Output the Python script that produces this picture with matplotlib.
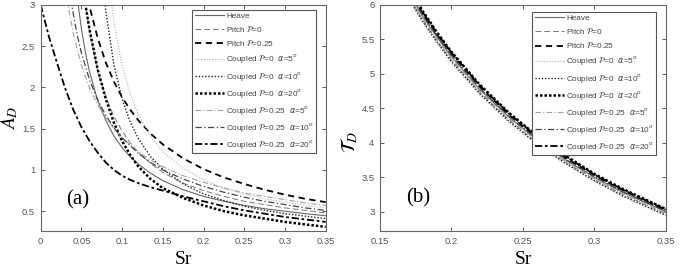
import matplotlib.pyplot as plt

# ---------------- (a) A_D vs Sr ----------------
sr_heave = [0.04, 0.045, 0.05, 0.055, 0.06, 0.07, 0.08, 0.09, 0.10, 0.11, 0.12,
            0.135, 0.15, 0.175, 0.20, 0.225, 0.25, 0.275, 0.30, 0.325, 0.35]
ad_heave = [3.59, 3.08, 2.71, 2.42, 2.19, 1.84, 1.60, 1.41, 1.27, 1.16, 1.07,
            0.96, 0.87, 0.76, 0.68, 0.62, 0.57, 0.53, 0.50, 0.47, 0.445]

sr_p0 = [0.05, 0.055, 0.06, 0.07, 0.08, 0.09, 0.10, 0.11, 0.12, 0.135, 0.15,
         0.175, 0.20, 0.225, 0.25, 0.275, 0.30, 0.325, 0.35]
ad_p0 = [3.43, 3.00, 2.68, 2.20, 1.88, 1.65, 1.47, 1.33, 1.21, 1.08, 0.97,
         0.84, 0.75, 0.68, 0.62, 0.58, 0.54, 0.51, 0.48]

sr_p25 = [0.055, 0.06, 0.07, 0.08, 0.09, 0.10, 0.11, 0.12, 0.135, 0.15, 0.175,
          0.20, 0.225, 0.25, 0.275, 0.30, 0.325, 0.35]
ad_p25 = [3.23, 2.98, 2.60, 2.30, 2.07, 1.88, 1.73, 1.60, 1.44, 1.31, 1.14,
          1.01, 0.91, 0.83, 0.76, 0.70, 0.65, 0.61]

sr_c0_a5 = [0.085, 0.09, 0.10, 0.11, 0.12, 0.135, 0.15, 0.175, 0.20, 0.225,
            0.25, 0.275, 0.30, 0.325, 0.35]
ad_c0_a5 = [3.17, 2.79, 2.26, 1.92, 1.67, 1.41, 1.22, 1.02, 0.88, 0.78,
            0.71, 0.65, 0.61, 0.57, 0.54]

sr_c0_a10 = [0.075, 0.08, 0.09, 0.10, 0.11, 0.12, 0.135, 0.15, 0.175, 0.20,
             0.225, 0.25, 0.275, 0.30, 0.325, 0.35]
ad_c0_a10 = [3.41, 2.92, 2.27, 1.86, 1.58, 1.38, 1.16, 1.01, 0.83, 0.71,
             0.63, 0.56, 0.51, 0.47, 0.44, 0.41]

sr_c0_a20 = [0.05, 0.055, 0.06, 0.07, 0.08, 0.09, 0.10, 0.11, 0.12, 0.135, 0.15,
             0.175, 0.20, 0.225, 0.25, 0.275, 0.30, 0.325, 0.35]
ad_c0_a20 = [3.35, 3.00, 2.70, 2.22, 1.86, 1.57, 1.35, 1.18, 1.04, 0.89, 0.78,
             0.66, 0.57, 0.50, 0.45, 0.41, 0.37, 0.34, 0.31]

sr_c25_a5 = [0.03, 0.035, 0.04, 0.045, 0.05, 0.06, 0.07, 0.08, 0.09, 0.10, 0.12,
             0.135, 0.15, 0.175, 0.20, 0.225, 0.25, 0.275, 0.30, 0.325, 0.35]
ad_c25_a5 = [3.26, 2.92, 2.66, 2.45, 2.27, 1.99, 1.79, 1.63, 1.50, 1.39, 1.22,
             1.12, 1.04, 0.93, 0.85, 0.78, 0.72, 0.68, 0.64, 0.60, 0.57]

sr_c25_a10 = [0.035, 0.04, 0.045, 0.05, 0.06, 0.07, 0.08, 0.09, 0.10, 0.12,
              0.135, 0.15, 0.175, 0.20, 0.225, 0.25, 0.275, 0.30, 0.325, 0.35]
ad_c25_a10 = [3.22, 2.89, 2.63, 2.42, 2.09, 1.85, 1.66, 1.51, 1.39, 1.20,
              1.09, 1.00, 0.89, 0.80, 0.73, 0.67, 0.62, 0.58, 0.54, 0.51]

sr_c25_a20 = [0.0, 0.01, 0.02, 0.03, 0.04, 0.05, 0.06, 0.07, 0.08, 0.09, 0.10,
              0.11, 0.12, 0.135, 0.15, 0.175, 0.20, 0.225, 0.25, 0.275, 0.30,
              0.325, 0.35]
ad_c25_a20 = [3.0, 2.62, 2.30, 1.99, 1.73, 1.52, 1.35, 1.21, 1.09, 1.00, 0.93,
              0.88, 0.84, 0.79, 0.75, 0.68, 0.62, 0.56, 0.51, 0.47, 0.43,
              0.40, 0.37]

# ---------------- (b) T_D vs Sr ----------------
sr_b = [0.17, 0.18, 0.19, 0.20, 0.22, 0.24, 0.26, 0.28, 0.30, 0.32, 0.35]
td_heave = [6.18, 5.83, 5.53, 5.25, 4.77, 4.38, 4.04, 3.75, 3.50, 3.28, 3.00]
td_p0 = [6.12, 5.78, 5.48, 5.20, 4.73, 4.34, 4.00, 3.72, 3.47, 3.25, 2.97]
td_p25 = [6.22, 5.87, 5.57, 5.29, 4.81, 4.41, 4.07, 3.78, 3.53, 3.31, 3.02]
td_c0_a5 = [6.08, 5.74, 5.44, 5.16, 4.69, 4.30, 3.97, 3.69, 3.44, 3.22, 2.94]
td_c0_a10 = [6.10, 5.76, 5.46, 5.18, 4.71, 4.32, 3.98, 3.70, 3.45, 3.23, 2.95]
td_c0_a20 = [6.26, 5.91, 5.60, 5.32, 4.84, 4.44, 4.10, 3.81, 3.55, 3.33, 3.04]
td_c25_a5 = [6.15, 5.80, 5.50, 5.22, 4.75, 4.36, 4.02, 3.73, 3.48, 3.26, 2.98]
td_c25_a10 = [6.20, 5.85, 5.55, 5.27, 4.79, 4.39, 4.05, 3.76, 3.51, 3.29, 3.01]
td_c25_a20 = [6.24, 5.89, 5.59, 5.31, 4.83, 4.43, 4.09, 3.80, 3.54, 3.32, 3.03]

labels = [
    "Heave",
    r"Pitch $\mathcal{P}$=0",
    r"Pitch $\mathcal{P}$=0.25",
    r"Coupled $\mathcal{P}$=0  $\alpha$=5$^o$",
    r"Coupled $\mathcal{P}$=0  $\alpha$=10$^o$",
    r"Coupled $\mathcal{P}$=0  $\alpha$=20$^o$",
    r"Coupled $\mathcal{P}$=0.25  $\alpha$=5$^o$",
    r"Coupled $\mathcal{P}$=0.25  $\alpha$=10$^o$",
    r"Coupled $\mathcal{P}$=0.25  $\alpha$=20$^o$",
]

# estilos (tipo MATLAB)
estilos = [
    dict(ls="-", color="#666666", lw=0.8),
    dict(ls=(0, (6, 3)), color="#777777", lw=0.7),
    dict(ls=(0, (3.5, 2.5)), color="black", lw=1.3),
    dict(ls=(0, (1, 1.5)), color="#b0b0b0", lw=0.8),
    dict(ls=(0, (1, 1.3)), color="#222222", lw=1.0),
    dict(ls=(0, (1, 0.8)), color="black", lw=1.8),
    dict(ls=(0, (5, 2, 1, 2)), color="#a0a0a0", lw=0.8),
    dict(ls=(0, (5, 2, 1, 2)), color="#444444", lw=0.9),
    dict(ls=(0, (4, 1.5, 1.5, 1.5)), color="black", lw=1.3),
]

datos_a = [(sr_heave, ad_heave), (sr_p0, ad_p0), (sr_p25, ad_p25),
           (sr_c0_a5, ad_c0_a5), (sr_c0_a10, ad_c0_a10), (sr_c0_a20, ad_c0_a20),
           (sr_c25_a5, ad_c25_a5), (sr_c25_a10, ad_c25_a10),
           (sr_c25_a20, ad_c25_a20)]
datos_b = [td_heave, td_p0, td_p25, td_c0_a5, td_c0_a10, td_c0_a20,
           td_c25_a5, td_c25_a10, td_c25_a20]

fig = plt.figure(figsize=(6.92, 2.72), dpi=100)
W, H = 692, 272
ax1 = fig.add_axes([40.7 / W, 1 - 231 / H, 285 / W, 226 / H])
ax2 = fig.add_axes([380 / W, 1 - 231 / H, 285.7 / W, 226 / H])

for (x, y), lab, st in zip(datos_a, labels, estilos):
    ax1.plot(x, y, label=lab, **st)
for y, lab, st in zip(datos_b, labels, estilos):
    ax2.plot(sr_b, y, label=lab, **st)

ax1.set_xlim(0, 0.35)
ax1.set_ylim(0.26, 3)
ax1.set_xticks([0, 0.05, 0.1, 0.15, 0.2, 0.25, 0.3, 0.35])
ax1.set_xticklabels(["0", "0.05", "0.1", "0.15", "0.2", "0.25", "0.3", "0.35"])
ax1.set_yticks([0.5, 1, 1.5, 2, 2.5, 3])
ax1.set_yticklabels(["0.5", "1", "1.5", "2", "2.5", "3"])

ax2.set_xlim(0.15, 0.35)
ax2.set_ylim(2.72, 6)
ax2.set_xticks([0.15, 0.2, 0.25, 0.3, 0.35])
ax2.set_xticklabels(["0.15", "0.2", "0.25", "0.3", "0.35"])
ax2.set_yticks([3, 3.5, 4, 4.5, 5, 5.5, 6])
ax2.set_yticklabels(["3", "3.5", "4", "4.5", "5", "5.5", "6"])

for ax in (ax1, ax2):
    ax.tick_params(direction="in", length=3, width=0.6, colors="#444444",
                   labelsize=6.8, top=True, right=True, pad=4)
    for lbl in ax.get_xticklabels() + ax.get_yticklabels():
        lbl.set_family("Liberation Sans")
        lbl.set_color("#555555")
    for sp in ax.spines.values():
        sp.set_color("#666666")
        sp.set_linewidth(0.8)

leg_kw = dict(loc="upper right", frameon=True, fancybox=False,
              edgecolor="#555555", framealpha=1, handlelength=3.6,
              handletextpad=0.2, labelspacing=0.5, borderpad=0.3,
              borderaxespad=0, prop={"family": "Liberation Sans", "size": 5.9})
l1 = ax1.legend(bbox_to_anchor=(0.966, 0.978), **leg_kw)
l2 = ax2.legend(bbox_to_anchor=(0.966, 0.969), **leg_kw)
for lg in (l1, l2):
    lg.get_frame().set_linewidth(0.8)
    for t in lg.get_texts():
        t.set_color("#444444")

serif = "Liberation Serif"
ax1.text(0.045, 0.64, "(a)", fontsize=15, family=serif, ha="center",
         va="center")
ax2.text(0.177, 3.2, "(b)", fontsize=15, family=serif, ha="center",
         va="center")

fig.text(183 / W, 1 - 259 / H, "Sr", fontsize=14, family=serif,
         ha="center", va="center")
fig.text(523 / W, 1 - 259 / H, "Sr", fontsize=14, family=serif,
         ha="center", va="center")
fig.text(10 / W, 1 - 118 / H, r"$A_D$", fontsize=14, rotation=90,
         ha="center", va="center", math_fontfamily="stix")
fig.text(349 / W, 1 - 142 / H, r"$\mathcal{T}_D$", fontsize=14, rotation=90,
         ha="center", va="center", math_fontfamily="stix")

fig.savefig("out.png", dpi=100)
